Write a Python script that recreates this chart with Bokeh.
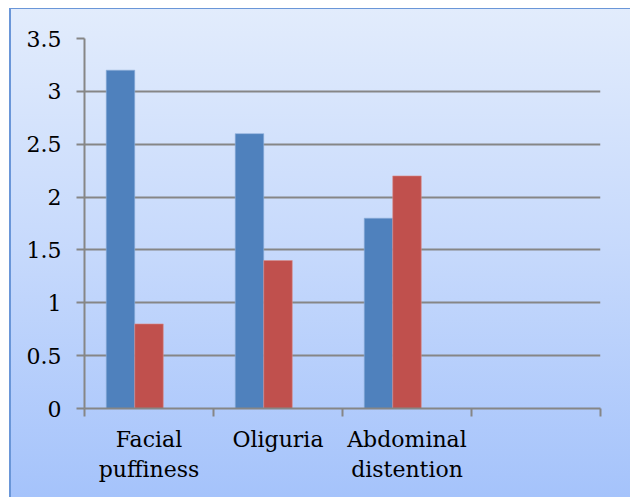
from bokeh.plotting import figure
from bokeh.models import FixedTicker, Range1d
from bokeh.embed import file_html
from bokeh.resources import INLINE

categories = ["Facial\npuffiness", "Oliguria", "Abdominal\ndistention", ""]
series1 = [3.2, 2.6, 1.8]
series2 = [0.8, 1.4, 2.2]
y_ticks = [0, 0.5, 1, 1.5, 2, 2.5, 3, 3.5]
y_labels = ["0", "0.5", "1", "1.5", "2", "2.5", "3", "3.5"]

FONT = "DejaVu Serif"
GRID = "#868686"

W, H = 630, 497
p = figure(width=W, height=H, output_backend="svg", toolbar_location=None,
           x_range=Range1d(0, len(categories)), y_range=Range1d(0, 3.5),
           min_border_left=84, min_border_right=30, min_border_top=38, min_border_bottom=89)
p.styles = {"background": (
    "linear-gradient(#6a96d8,#6a96d8) 10px 8px / 620px 1px no-repeat, "
    "linear-gradient(#6a96d8,#6a96d8) 9px 8px / 2px 489px no-repeat, "
    "linear-gradient(to bottom, #e2ecfc 0%, #c6d9fc 50%, #a5c3fb 100%) 10px 8px / 620px 489px no-repeat, "
    "#ffffff")}
p.border_fill_alpha = 0
p.background_fill_alpha = 0
p.outline_line_color = None

bw = 0.221
idx = list(range(len(series1)))
p.vbar(x=[i + 0.5 - bw for i in idx], top=series1, width=bw, bottom=0,
       fill_color="#4F81BD", line_color="#8fb0dc", line_width=0.6)
p.vbar(x=[i + 0.5 for i in idx], top=series2, width=bw, bottom=0,
       fill_color="#C0504D", line_color="#d98d8b", line_width=0.6)

# y axis
p.yaxis.ticker = FixedTicker(ticks=y_ticks, minor_ticks=[])
p.yaxis.major_label_overrides = {t: l for t, l in zip(y_ticks, y_labels)}
p.yaxis.major_label_text_font = FONT
p.yaxis.major_label_text_font_size = "22px"
p.yaxis.major_label_text_color = "#000000"
p.yaxis.major_label_standoff = 15
p.yaxis.major_tick_out = 8
p.yaxis.major_tick_in = 0
p.yaxis.major_tick_line_color = GRID
p.yaxis.major_tick_line_width = 2
p.yaxis.axis_line_color = GRID
p.yaxis.axis_line_width = 2
p.yaxis.minor_tick_line_color = None

# x axis: labels at category centres, tick marks at category boundaries
centers = [i + 0.5 for i in range(len(categories))]
p.xaxis.ticker = FixedTicker(ticks=centers, minor_ticks=list(range(len(categories) + 1)))
p.xaxis.major_label_overrides = {c: l for c, l in zip(centers, categories)}
p.xaxis.major_label_text_font = FONT
p.xaxis.major_label_text_font_size = "22px"
p.xaxis.major_label_text_color = "#000000"
p.xaxis.major_label_text_line_height = 1.2
p.xaxis.major_label_standoff = 10
p.xaxis.major_tick_line_color = None
p.xaxis.minor_tick_out = 8
p.xaxis.minor_tick_in = 0
p.xaxis.minor_tick_line_color = GRID
p.xaxis.minor_tick_line_width = 2
p.xaxis.axis_line_color = GRID
p.xaxis.axis_line_width = 2

p.xgrid.grid_line_color = None
p.ygrid.grid_line_color = GRID
p.ygrid.grid_line_width = 2

open("out.html", "w").write(file_html(p, INLINE))
